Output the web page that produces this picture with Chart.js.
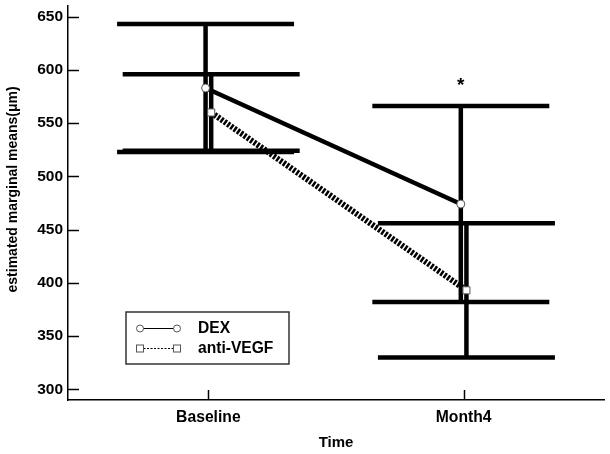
<!DOCTYPE html>
<html>
<head>
<meta charset="utf-8">
<script src="https://cdn.jsdelivr.net/npm/chart.js@4.4.1/dist/chart.umd.min.js"></script>
<style>
  html, body { margin: 0; padding: 0; background: #fff; }
  #wrap { width: 610px; height: 454px; }
</style>
</head>
<body>
<div id="wrap"><canvas id="chart" width="610" height="454"></canvas></div>
<script>
const timeLabels = ['Baseline', 'Month4'];
const seriesNames = ['DEX', 'anti-VEGF'];
const dexMean = [583, 474];
const dexLower = [523, 382];
const dexUpper = [643, 566];
const vegfMean = [560, 393];
const vegfLower = [524, 330];
const vegfUpper = [596, 456];
const yTicks = [300, 350, 400, 450, 500, 550, 600, 650];
const sigIndex = 1; // asterisk over DEX at Month4

const dodge = [-0.011, 0.011];
const FONT = 'Arial, "Liberation Sans", sans-serif';

function toPoints(vals, d) {
    return vals.map((v, i) => ({ x: i + d, y: v }));
}

const errorBars = [
    { lower: dexLower, upper: dexUpper, d: dodge[0] },
    { lower: vegfLower, upper: vegfUpper, d: dodge[1] }
];

const extras = {
    id: 'extras',
    beforeDatasetsDraw(chart) {
        const ctx = chart.ctx;
        const xs = chart.scales.x, ys = chart.scales.y;
        ctx.save();
        ctx.strokeStyle = '#000';
        ctx.lineWidth = 4.5;
        errorBars.forEach(eb => {
            eb.lower.forEach((lo, i) => {
                const px = xs.getPixelForValue(i + eb.d);
                const yLo = ys.getPixelForValue(lo);
                const yHi = ys.getPixelForValue(eb.upper[i]);
                ctx.beginPath();
                ctx.moveTo(px, yLo);
                ctx.lineTo(px, yHi);
                ctx.stroke();
                [yLo, yHi].forEach(y => {
                    ctx.beginPath();
                    ctx.moveTo(px - 88.5, y);
                    ctx.lineTo(px + 88.5, y);
                    ctx.stroke();
                });
            });
        });
        ctx.restore();
    },
    afterDraw(chart) {
        const ctx = chart.ctx;
        const xs = chart.scales.x, ys = chart.scales.y;
        const area = chart.chartArea;
        ctx.save();
        // inward tick marks
        ctx.strokeStyle = '#000';
        ctx.lineWidth = 1.5;
        yTicks.forEach(t => {
            const y = Math.round(ys.getPixelForValue(t)) + 0.5;
            ctx.beginPath();
            ctx.moveTo(area.left, y);
            ctx.lineTo(area.left + 11, y);
            ctx.stroke();
        });
        timeLabels.forEach((l, i) => {
            const x = Math.round(xs.getPixelForValue(i)) + 0.5;
            ctx.beginPath();
            ctx.moveTo(x, area.bottom);
            ctx.lineTo(x, area.bottom - 10);
            ctx.stroke();
        });

        // significance asterisk
        ctx.fillStyle = '#000';
        ctx.font = 'bold 19px ' + FONT;
        ctx.textAlign = 'center';
        ctx.textBaseline = 'middle';
        ctx.fillText('*', xs.getPixelForValue(sigIndex + dodge[0]), ys.getPixelForValue(dexUpper[sigIndex]) - 20);

        // legend box
        const bx = 126, by = 312, bw = 163, bh = 52;
        ctx.lineWidth = 1.5;
        ctx.strokeStyle = '#333';
        ctx.strokeRect(bx, by, bw, bh);
        const rows = [by + 16.5, by + 36.5];
        const x0 = 140, x1 = 177;
        ctx.lineWidth = 1;
        ctx.strokeStyle = '#000';
        // DEX row
        ctx.beginPath();
        ctx.moveTo(x0, rows[0]);
        ctx.lineTo(x1, rows[0]);
        ctx.stroke();
        ctx.strokeStyle = '#555';
        ctx.fillStyle = '#fff';
        [x0, x1].forEach(x => {
            ctx.beginPath();
            ctx.arc(x, rows[0], 3.5, 0, Math.PI * 2);
            ctx.fill();
            ctx.stroke();
        });
        // anti-VEGF row
        ctx.strokeStyle = '#000';
        ctx.setLineDash([2, 1.5]);
        ctx.beginPath();
        ctx.moveTo(x0, rows[1]);
        ctx.lineTo(x1, rows[1]);
        ctx.stroke();
        ctx.setLineDash([]);
        ctx.strokeStyle = '#555';
        [x0, x1].forEach(x => {
            ctx.fillRect(x - 3.5, rows[1] - 3.5, 7, 7);
            ctx.strokeRect(x - 3.5, rows[1] - 3.5, 7, 7);
        });
        ctx.fillStyle = '#000';
        ctx.font = 'bold 15.6px ' + FONT;
        ctx.textAlign = 'left';
        ctx.fillText(seriesNames[0], 198, rows[0]);
        ctx.fillText(seriesNames[1], 198, rows[1]);
        ctx.restore();
    }
};

new Chart(document.getElementById('chart'), {
    type: 'scatter',
    data: {
        datasets: [
            {
                label: seriesNames[0],
                data: toPoints(dexMean, dodge[0]),
                showLine: true,
                borderColor: '#000',
                borderWidth: 4.5,
                pointStyle: 'circle',
                pointRadius: 4,
                pointBackgroundColor: '#fff',
                pointBorderColor: '#555',
                pointBorderWidth: 1
            },
            {
                label: seriesNames[1],
                data: toPoints(vegfMean, dodge[1]),
                showLine: true,
                borderColor: '#000',
                borderWidth: 6,
                borderDash: [2.5, 1.5],
                pointStyle: 'rect',
                pointRadius: 5,
                pointBackgroundColor: '#fff',
                pointBorderColor: '#555',
                pointBorderWidth: 1
            }
        ]
    },
    options: {
        responsive: false,
        animation: false,
        devicePixelRatio: 1,
        layout: { padding: { top: 5, right: 6, left: 0, bottom: 0 } },
        plugins: {
            legend: { display: false },
            tooltip: { enabled: false }
        },
        scales: {
            x: {
                type: 'linear',
                min: -0.55,
                max: 1.55,
                afterBuildTicks: s => { s.ticks = timeLabels.map((l, i) => ({ value: i })); },
                afterFit: s => { s.height = 54; s.paddingLeft = 0; s.paddingRight = 0; },
                grid: { display: false, drawTicks: false },
                border: { display: true, color: '#000', width: 1.5 },
                ticks: {
                    color: '#000',
                    padding: 8,
                    font: { family: FONT, size: 15.7, weight: 'bold' },
                    callback: v => timeLabels[v]
                },
                title: {
                    display: true,
                    text: 'Time',
                    color: '#000',
                    padding: { top: 0, bottom: 2 },
                    font: { family: FONT, size: 15, weight: 'bold' }
                }
            },
            y: {
                min: 290,
                max: 660,
                afterBuildTicks: s => { s.ticks = yTicks.map(v => ({ value: v })); },
                afterFit: s => { s.width = 68; s.paddingTop = 0; s.paddingBottom = 0; },
                grid: { display: false, drawTicks: false },
                border: { display: true, color: '#000', width: 1.5 },
                ticks: {
                    color: '#000',
                    padding: 5,
                    font: { family: FONT, size: 15.5, weight: 'bold' }
                },
                title: {
                    display: true,
                    text: '       estimated marginal means(\u03bcm)',
                    color: '#000',
                    padding: { top: 5, bottom: 0 },
                    font: { family: FONT, size: 14, weight: 'bold' }
                }
            }
        }
    },
    plugins: [extras]
});
</script>
</body>
</html>
